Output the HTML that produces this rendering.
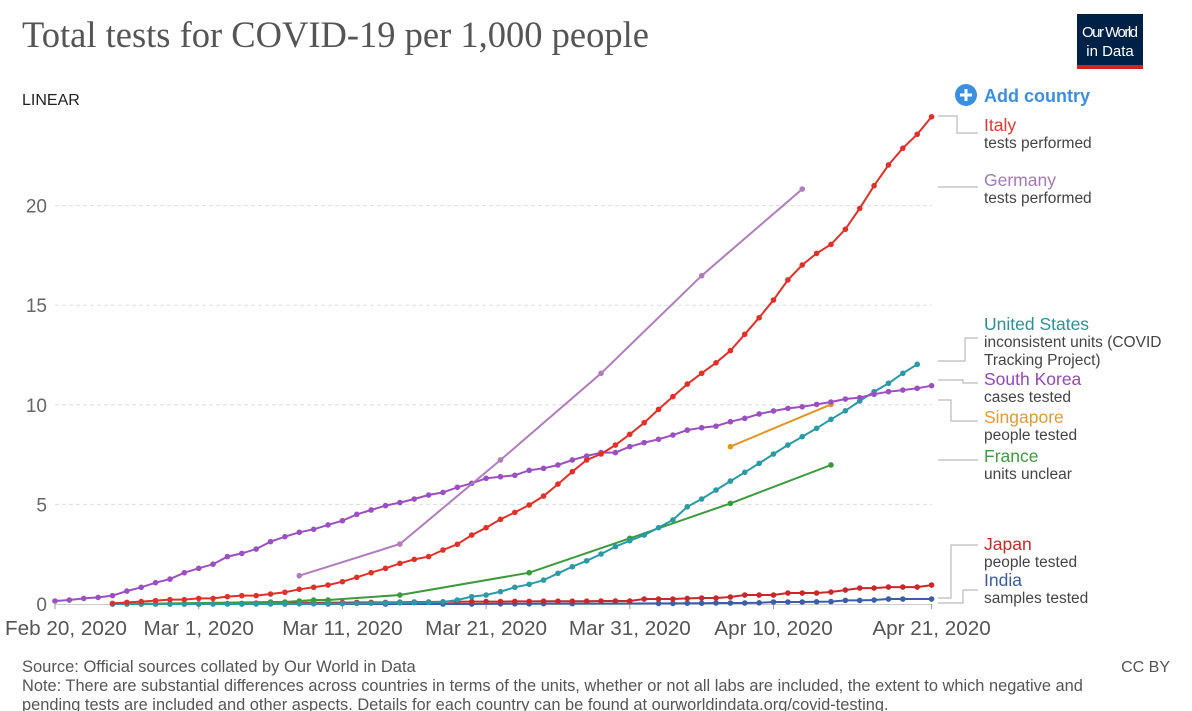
<!DOCTYPE html>
<html><head><meta charset="utf-8">
<style>
body{margin:0;background:#fff;font-family:"Liberation Sans",sans-serif;}
#wrap{position:relative;width:1192px;height:711px;overflow:hidden;}
</style></head><body>
<div id="wrap">
<svg id="chart" width="1192" height="711" xmlns="http://www.w3.org/2000/svg">
<text x="22" y="47" font-family="Liberation Serif, serif" font-size="36.5" fill="#555">Total tests for COVID-19 per 1,000 people</text>
<g>
<rect x="1077" y="14" width="66" height="55" fill="#002147"/>
<rect x="1077" y="65" width="66" height="4" fill="#ce261e"/>
<text x="1110" y="37" text-anchor="middle" font-size="15" fill="#fff" textLength="56">Our World</text>
<text x="1110" y="56" text-anchor="middle" font-size="15" fill="#fff">in Data</text>
</g>
<text x="22" y="105" font-size="16" fill="#222">LINEAR</text>
<g>
<circle cx="966" cy="95" r="11" fill="#3b8fe0"/>
<rect x="960" y="93.5" width="12" height="3" fill="#fff"/><rect x="964.5" y="89" width="3" height="12" fill="#fff"/>
<text x="984" y="102" font-size="18" font-weight="bold" fill="#3b8fe0">Add country</text>
</g>
<g id="grid"></g><g id="axes"></g><g id="series"></g><g id="legend"></g>
<text x="22" y="672" font-size="16.5" fill="#555">Source: Official sources collated by Our World in Data</text>
<text x="22" y="691" font-size="16.4" fill="#555">Note: There are substantial differences across countries in terms of the units, whether or not all labs are included, the extent to which negative and</text>
<text x="22" y="710" font-size="16.4" fill="#555">pending tests are included and other aspects. Details for each country can be found at ourworldindata.org/covid-testing.</text>
<text x="1170" y="672" text-anchor="end" font-size="16" fill="#555">CC BY</text>
</svg>
</div>
<script>
const yTicks=[0,5,10,15,20];
const xTickDays=[0,10,20,30,40,50,61];
const xTickLabels=["Feb 20, 2020","Mar 1, 2020","Mar 11, 2020","Mar 21, 2020","Mar 31, 2020","Apr 10, 2020","Apr 21, 2020"];
const italyDays=[4,5,6,7,8,9,10,11,12,13,14,15,16,17,18,19,20,21,22,23,24,25,26,27,28,29,30,31,32,33,34,35,36,37,38,39,40,41,42,43,44,45,46,47,48,49,50,51,52,53,54,55,56,57,58,59,60,61];
const italyVals=[0.03,0.08,0.12,0.17,0.22,0.22,0.28,0.28,0.37,0.42,0.42,0.5,0.59,0.74,0.84,0.95,1.12,1.34,1.57,1.79,2.04,2.24,2.38,2.71,3.0,3.46,3.83,4.25,4.6,4.97,5.42,6.02,6.64,7.23,7.53,7.98,8.52,9.1,9.77,10.41,11.04,11.58,12.11,12.72,13.54,14.37,15.26,16.27,17.02,17.6,18.05,18.81,19.86,21.0,22.04,22.88,23.58,24.46];
const germanyDays=[17,24,31,38,45,52];
const germanyVals=[1.42,3.01,7.23,11.58,16.48,20.83];
const koreaDays=[0,1,2,3,4,5,6,7,8,9,10,11,12,13,14,15,16,17,18,19,20,21,22,23,24,25,26,27,28,29,30,31,32,33,34,35,36,37,38,39,40,41,42,43,44,45,46,47,48,49,50,51,52,53,54,55,56,57,58,59,60,61];
const koreaVals=[0.15,0.2,0.28,0.33,0.42,0.65,0.84,1.07,1.25,1.57,1.79,2.0,2.38,2.54,2.76,3.13,3.38,3.6,3.75,3.97,4.18,4.5,4.72,4.94,5.09,5.27,5.47,5.6,5.86,6.06,6.31,6.39,6.46,6.71,6.81,6.98,7.23,7.43,7.6,7.6,7.9,8.1,8.27,8.48,8.73,8.85,8.93,9.15,9.32,9.54,9.69,9.82,9.9,10.02,10.14,10.29,10.36,10.53,10.66,10.74,10.83,10.96];
const usDays=[4,5,6,7,8,9,10,11,12,13,14,15,16,17,18,19,20,21,22,23,24,25,26,27,28,29,30,31,32,33,34,35,36,37,38,39,40,41,42,43,44,45,46,47,48,49,50,51,52,53,54,55,56,57,58,59,60];
const usVals=[0,0,0,0,0,0,0,0,0,0,0,0,0,0.01,0.01,0.02,0.02,0.03,0.04,0.05,0.06,0.07,0.08,0.1,0.2,0.37,0.45,0.62,0.84,0.99,1.2,1.54,1.87,2.17,2.51,2.88,3.18,3.46,3.83,4.22,4.88,5.27,5.72,6.17,6.61,7.06,7.53,7.98,8.4,8.82,9.27,9.7,10.19,10.66,11.08,11.58,12.03];
const franceDays=[4,5,15,16,17,18,19,24,33,40,47,54];
const franceVals=[0,0,0.1,0.1,0.15,0.2,0.2,0.45,1.57,3.3,5.05,6.98];
const singaporeDays=[47,54];
const singaporeVals=[7.9,10.02];
const japanDays=[6,7,8,9,10,11,12,13,14,15,16,17,18,19,20,21,22,23,24,25,26,27,28,29,30,31,32,33,34,35,36,37,38,39,40,41,42,43,44,45,46,47,48,49,50,51,52,53,54,55,56,57,58,59,60,61];
const japanVals=[0,0,0,0,0,0.01,0.02,0.03,0.04,0.05,0.05,0.06,0.06,0.07,0.07,0.08,0.08,0.08,0.09,0.1,0.1,0.11,0.11,0.12,0.12,0.12,0.13,0.13,0.14,0.14,0.14,0.14,0.15,0.15,0.15,0.25,0.25,0.25,0.28,0.3,0.3,0.35,0.45,0.45,0.45,0.55,0.55,0.55,0.6,0.7,0.8,0.8,0.85,0.85,0.85,0.95];
const indiaDays=[13,16,19,23,27,29,31,32,33,34,36,42,43,44,45,46,47,48,49,50,51,52,53,54,55,56,57,58,59,61];
const indiaVals=[0,0,0,0,0,0,0.01,0.01,0.01,0.02,0.02,0.03,0.03,0.04,0.04,0.05,0.05,0.05,0.06,0.1,0.1,0.1,0.11,0.12,0.18,0.18,0.2,0.25,0.25,0.25];

const NS="http://www.w3.org/2000/svg";
const X0=55,PXDAY=14.37,Y0=604,PXV=19.92;
function xs(d){return X0+d*PXDAY;}
function ys(v){return Y0-v*PXV;}
function mk(tag,attrs,parent){const e=document.createElementNS(NS,tag);for(const k in attrs)e.setAttribute(k,attrs[k]);parent.appendChild(e);return e;}
const grid=document.getElementById('grid'),axes=document.getElementById('axes'),ser=document.getElementById('series'),leg=document.getElementById('legend');
yTicks.forEach(t=>{
  if(t>0){const l=mk('line',{x1:55,x2:932,y1:ys(t),y2:ys(t),stroke:'#ddd','stroke-dasharray':'4,3'},grid);
  
  }
  const tx=mk('text',{x:47,y:ys(t)+7,'text-anchor':'end','font-size':19,fill:'#666'},axes);
  tx.textContent=t;
  
  
});
const ax=mk('line',{x1:55,x2:932,y1:604.5,y2:604.5,stroke:'#ccc'},axes);


xTickDays.forEach((d,i)=>{
  const tk=mk('line',{x1:xs(d),x2:xs(d),y1:604,y2:609,stroke:'#999'},axes);
  
  
  let x=xs(d),anc='middle';
  if(i===0){x=5;anc='start';}
  const tx=mk('text',{x:x,y:635,'text-anchor':anc,'font-size':20.7,fill:'#555'},axes);
  tx.textContent=xTickLabels[i];
  
  
});
function drawSeries(name,days,vals,color){
  const g=mk('g',{},ser);
  
  
  const pts=days.map((d,i)=>xs(d).toFixed(1)+','+ys(vals[i]).toFixed(1)).join(' ');
  const pl=mk('polyline',{points:pts,fill:'none',stroke:color,'stroke-width':2},g);
  
  
  days.forEach((d,i)=>{const c=mk('circle',{cx:xs(d),cy:ys(vals[i]),r:2.8,fill:color},g);
    
    });
}
drawSeries('india',indiaDays,indiaVals,'#3c5da8');
drawSeries('japan',japanDays,japanVals,'#c8282b');
drawSeries('france',franceDays,franceVals,'#3a9a3d');
drawSeries('singapore',singaporeDays,singaporeVals,'#e4951f');
drawSeries('united-states',usDays,usVals,'#2a9aa5');
drawSeries('south-korea',koreaDays,koreaVals,'#9c4fc0');
drawSeries('germany',germanyDays,germanyVals,'#b07cbd');
drawSeries('italy',italyDays,italyVals,'#e0302a');
const legendItems=[
 ['italy','Italy','tests performed',null,'#dc3a33',125,'938,116 957,116 957,133 978,133'],
 ['germany','Germany','tests performed',null,'#a479b5',180,'938,187 978,187'],
 ['united-states','United States','inconsistent units (COVID','Tracking Project)','#2f8f94',324,'938,361 965,361 965,338 978,338'],
 ['south-korea','South Korea','cases tested',null,'#9447b5',379,'938,380 963,380 963,383 978,383'],
 ['singapore','Singapore','people tested',null,'#de9a3a',417,'938,400 951,400 951,421 978,421'],
 ['france','France','units unclear',null,'#3f9a40',456,'938,460 978,460'],
 ['japan','Japan','people tested',null,'#c42c2a',544,'938,598 951,598 951,545 978,545'],
 ['india','India','samples tested',null,'#3b5da0',580,'938,603 963,603 963,590 978,590']
];
legendItems.forEach(it=>{
  const g=mk('g',{},leg);
  
  
  mk('polyline',{points:it[6],fill:'none',stroke:'#bbb','stroke-width':1.2},g);
  const t=mk('text',{x:984,y:it[5]+6,'font-size':17.5,fill:it[4]},g);t.textContent=it[1];
  const s=mk('text',{x:984,y:it[5]+23,'font-size':15.5,fill:'#444'},g);s.textContent=it[2];
  if(it[3]){const s2=mk('text',{x:984,y:it[5]+41,'font-size':15.5,fill:'#444'},g);s2.textContent=it[3];}
});
</script>
</body></html>
